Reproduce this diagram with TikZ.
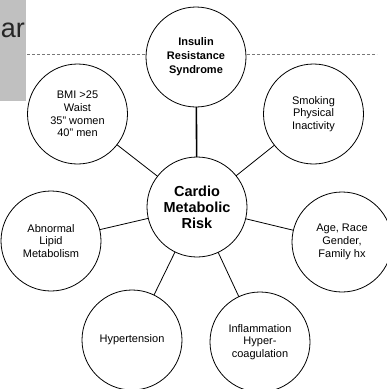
\documentclass[tikz,border=0pt]{standalone}
\usepackage{fontspec}
\setmainfont{Liberation Sans}
\definecolor{boxgray}{RGB}{192,192,192}
\definecolor{dashgray}{RGB}{120,120,120}
\tikzset{
  factor/.style={circle,draw,fill=white,line width=0.8pt,minimum size=100pt,
    inner sep=0pt,outer sep=0pt,align=center,font=\fontsize{11}{12.7}\selectfont},
  link/.style={line width=0.8pt},
}

\begin{document}
\begin{tikzpicture}[x=1pt,y=-1pt]
      \useasboundingbox (0,0) rectangle (387,389);
      \fill[boxgray] (0,0) rectangle (26,101);
      \node[anchor=base east,inner sep=0pt,text=black!85,font=\fontsize{27}{30}\selectfont] (title) at (25,37) {ar};
      \coordinate (dashl) at (27,54);
      \coordinate (dashr) at (377,54);
      \draw[dashgray,line width=0.6pt,dash pattern=on 3pt off 2pt] (dashl) -- (dashr);
      % factors round the centre
      \node[factor,font=\bfseries\fontsize{11}{14}\selectfont] (insulin) at (196,57) {Insulin\\Resistance\\Syndrome};
      \node[factor,font=\bfseries\fontsize{14.5}{16}\selectfont] (risk) at (197,207) {Cardio\\Metabolic\\Risk};
      \node[factor] (bmi) at (77.5,114) {BMI >25\\Waist\\35'' women\\40'' men};
      \node[factor] (smoking) at (313.5,114) {Smoking\\Physical\\Inactivity};
      \node[factor] (lipid) at (51,241) {Abnormal\\Lipid\\Metabolism};
      \node[factor] (age) at (342,242) {Age, Race\\Gender,\\Family hx};
      \node[factor] (hyper) at (132,340) {Hypertension};
      \node[factor] (inflam) at (260,342) {Inflammation\\Hyper-\\coagulation};
      \draw[line width=1.6pt] (insulin) -- (risk);
      \foreach \f in {bmi,smoking,lipid,age,hyper,inflam}
        \draw[link] (risk) -- (\f);
    \end{tikzpicture}
\end{document}
